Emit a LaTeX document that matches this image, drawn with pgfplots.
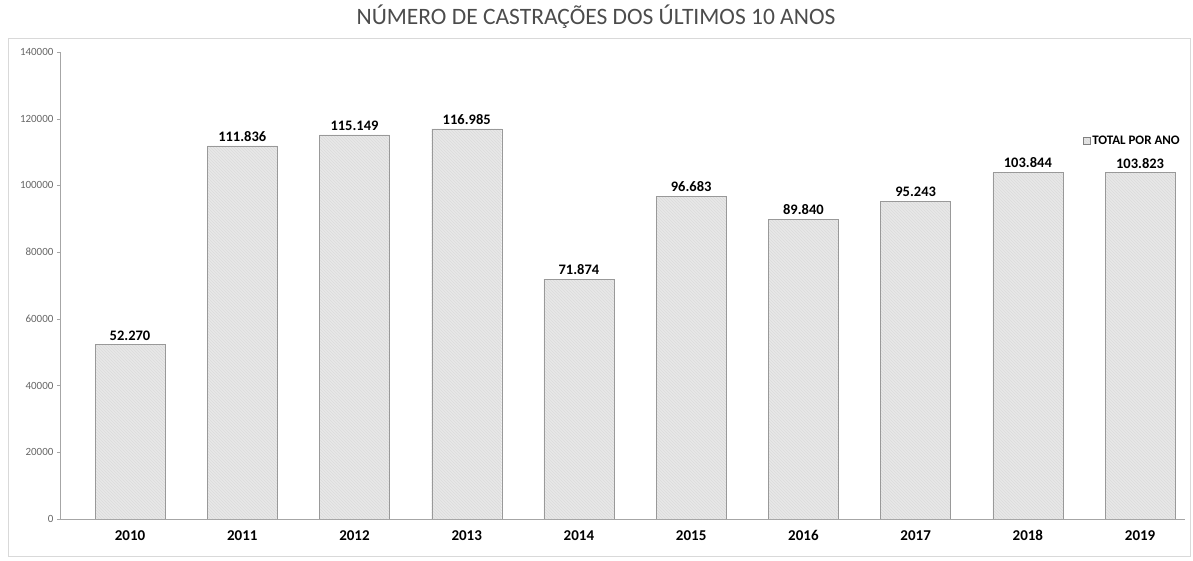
\documentclass[border=0pt]{standalone}
\usepackage{fontspec}
\setmainfont{Carlito}
\usepackage{pgfplots}
\pgfplotsset{compat=1.18}
\usetikzlibrary{patterns}

\begin{document}
\begin{tikzpicture}
\useasboundingbox (-60pt,-42pt) rectangle (1133pt,519pt);
\draw[black!15, line width=0.8pt] (-52pt,-37pt) rectangle (1130pt,481pt);
\node[text=black!70, font=\fontsize{23.5}{27}\selectfont] at (536pt,502pt) {NÚMERO DE CASTRAÇÕES DOS ÚLTIMOS 10 ANOS};
\begin{axis}[
    at={(0pt,0pt)}, anchor=south west,
    scale only axis,
    width=1125pt, height=467pt,
    ybar, bar width=70pt,
    xmin=-0.624, xmax=9.4,
    ymin=0, ymax=140000,
    ytick={0,20000,...,140000},
    xtick=data,
    xticklabels={2010,2011,2012,2013,2014,2015,2016,2017,2018,2019},
    x tick label style={font=\bfseries\fontsize{15}{17}\selectfont, yshift=-5pt},
    y tick label style={font=\fontsize{11}{13}\selectfont, text=black!60},
    /pgf/number format/assume math mode=true,
    scaled y ticks=false,
    yticklabel={\pgfmathprintnumber[fixed, 1000 sep={}]{\tick}},
    axis x line*=bottom, axis y line*=left,
    axis line style={black!35},
    x axis line style={-}, y axis line style={-},
    xtick style={draw=none},
    ytick style={black!35},
    tick align=outside, major tick length=3pt,
    point meta=explicit symbolic,
    nodes near coords,
    nodes near coords style={font=\bfseries\fontsize{14.5}{17}\selectfont, yshift=1pt},
    legend style={at={(1.0,0.81)}, anchor=east, draw=none, fill=none,
        font=\bfseries\fontsize{13}{15}\selectfont},
    legend image code/.code={\draw[black!50, fill=black!10] (0pt,-3.5pt) rectangle (7pt,3.5pt);},
]
\addplot[fill=black!9, draw=black!40,
    postaction={pattern=north west lines, pattern color=black!14}] coordinates {
    (0,52270) [52.270]
    (1,111836) [111.836]
    (2,115149) [115.149]
    (3,116985) [116.985]
    (4,71874) [71.874]
    (5,96683) [96.683]
    (6,89840) [89.840]
    (7,95243) [95.243]
    (8,103844) [103.844]
    (9,103823) [103.823]
};
\legend{TOTAL POR ANO}
\end{axis}
\end{tikzpicture}
\end{document}
